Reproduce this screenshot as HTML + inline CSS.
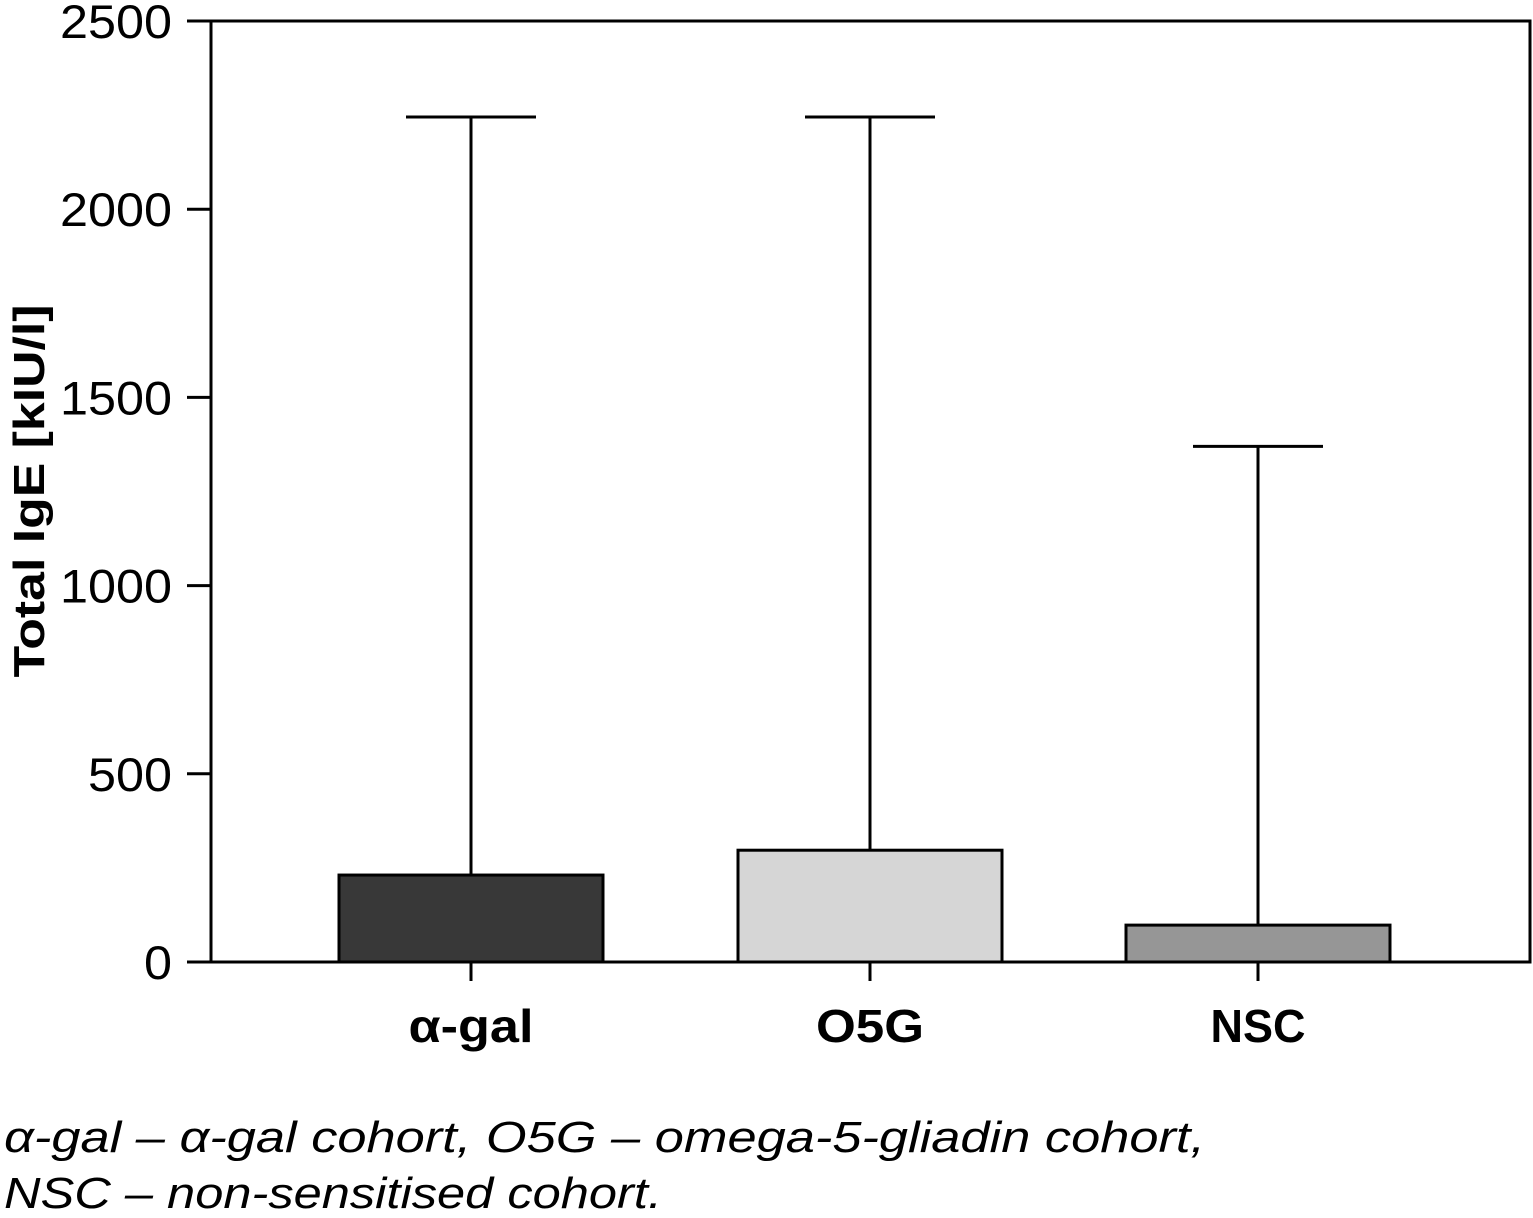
<!DOCTYPE html>
<html><head><meta charset="utf-8"><style>
body{margin:0;background:#fff;}
svg{display:block;font-family:"Liberation Sans","DejaVu Sans",sans-serif;}
</style></head><body>
<svg id="chart" width="1533" height="1218" viewBox="0 0 1533 1218" xmlns="http://www.w3.org/2000/svg">
<g id="plot"></g>
<text transform="translate(44,491) rotate(-90)" text-anchor="middle" font-size="44" font-weight="bold" fill="#000" textLength="373" lengthAdjust="spacingAndGlyphs">Total IgE [kIU/l]</text>
<text x="4" y="1152" font-size="44" font-style="italic" fill="#000" textLength="1201" lengthAdjust="spacingAndGlyphs">α-gal – α-gal cohort, O5G – omega-5-gliadin cohort,</text>
<text x="4" y="1208" font-size="44" font-style="italic" fill="#000" textLength="658" lengthAdjust="spacingAndGlyphs">NSC – non-sensitised cohort.</text>
</svg>
<script>
const categories = ["α-gal","O5G","NSC"];
const means = [231, 297, 98];
const upperErrors = [2245, 2245, 1370];
const barColors = ["#383838","#d6d6d6","#969696"];
const yTicks = [0,500,1000,1500,2000,2500];

const X0=211, X1=1530, Y0=962, Y1=21, yMax=2500;
const centers=[471,870,1258], barW=264, capHalf=65;
const labelWidths=[125,108,95];
const y = v => Y0 - v/yMax*(Y0-Y1);
const xc = i => centers[i];
const NS="http://www.w3.org/2000/svg";
const g=document.getElementById('plot');
function mk(t,a){const e=document.createElementNS(NS,t);for(const k in a)e.setAttribute(k,a[k]);g.appendChild(e);return e;}

categories.forEach((c,i)=>{
  const cx=xc(i);
  const ln=mk('line',{x1:cx,x2:cx,y1:y(upperErrors[i]),y2:y(means[i]),stroke:'#000','stroke-width':3});
  
  
  const cap=mk('line',{x1:cx-capHalf,x2:cx+capHalf,y1:y(upperErrors[i]),y2:y(upperErrors[i]),stroke:'#000','stroke-width':3});
  
  
  const r=mk('rect',{x:cx-barW/2,y:y(means[i]),width:barW,height:Y0-y(means[i]),fill:barColors[i],stroke:'#000','stroke-width':3});
  
  
  const tk=mk('line',{x1:cx,x2:cx,y1:Y0,y2:Y0+19,stroke:'#000','stroke-width':3});
  
  
  const t=mk('text',{x:cx,y:1042,'text-anchor':'middle','font-size':46,'font-weight':'bold',fill:'#000',textLength:labelWidths[i],lengthAdjust:'spacingAndGlyphs'});
  t.textContent=c;
  
  
});
yTicks.forEach(v=>{
  const tk=mk('line',{x1:187,x2:X0,y1:y(v),y2:y(v),stroke:'#000','stroke-width':3});
  
  
  const n=String(v).length;
  const t=mk('text',{x:172,y:y(v)+17,'text-anchor':'end','font-size':47,fill:'#000',textLength:n*28,lengthAdjust:'spacingAndGlyphs'});
  t.textContent=v;
  
  
});
const frame=mk('rect',{x:X0,y:Y1,width:X1-X0,height:Y0-Y1,fill:'none',stroke:'#000','stroke-width':3});


</script>
</body></html>
